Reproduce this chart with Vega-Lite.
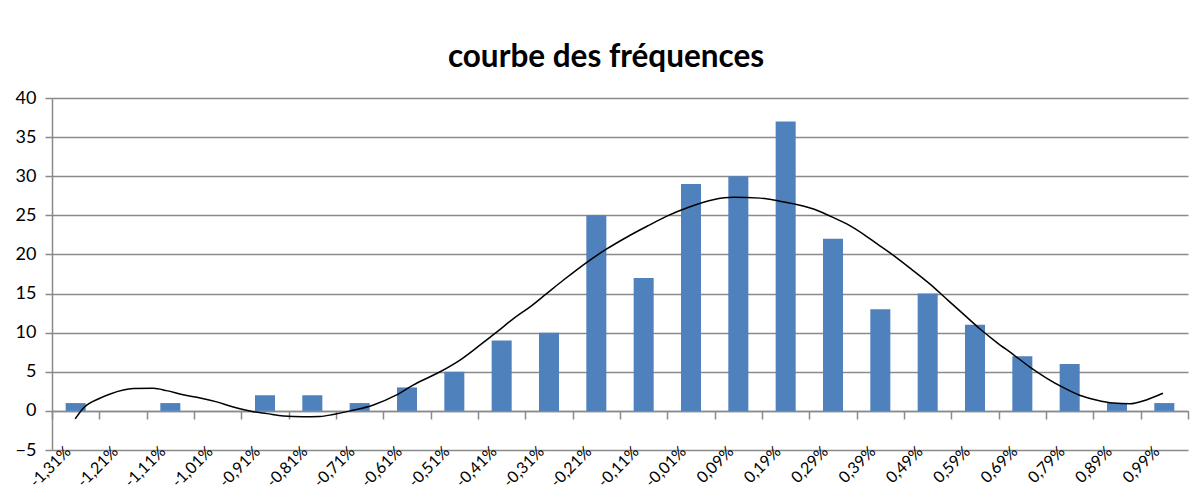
{
  "$schema": "https://vega.github.io/schema/vega-lite/v6.json",
  "width": 1136,
  "height": 352,
  "autosize": {"type": "none"},
  "padding": {"left": 52, "top": 98, "right": 14, "bottom": 43},
  "background": "white",
  "title": {"text": "courbe des fréquences", "font": "Lato", "fontSize": 31.5, "fontWeight": "bold", "color": "black", "anchor": "middle", "dx": -14, "dy": 9, "baseline": "alphabetic", "offset": 0},
  "config": {"view": {"stroke": null}, "font": "Lato"},
  "datasets": {
    "barres": [
      {"classe": "-1,31%", "freq": 1},
      {"classe": "-1,21%", "freq": 0},
      {"classe": "-1,11%", "freq": 1},
      {"classe": "-1,01%", "freq": 0},
      {"classe": "-0,91%", "freq": 2},
      {"classe": "-0,81%", "freq": 2},
      {"classe": "-0,71%", "freq": 1},
      {"classe": "-0,61%", "freq": 3},
      {"classe": "-0,51%", "freq": 5},
      {"classe": "-0,41%", "freq": 9},
      {"classe": "-0,31%", "freq": 10},
      {"classe": "-0,21%", "freq": 25},
      {"classe": "-0,11%", "freq": 17},
      {"classe": "-0,01%", "freq": 29},
      {"classe": "0,09%", "freq": 30},
      {"classe": "0,19%", "freq": 37},
      {"classe": "0,29%", "freq": 22},
      {"classe": "0,39%", "freq": 13},
      {"classe": "0,49%", "freq": 15},
      {"classe": "0,59%", "freq": 11},
      {"classe": "0,69%", "freq": 7},
      {"classe": "0,79%", "freq": 6},
      {"classe": "0,89%", "freq": 1},
      {"classe": "0,99%", "freq": 1}
    ],
    "courbe": [
      {"x": -1.311, "y": -1.02},
      {"x": -1.294, "y": 0.34},
      {"x": -1.259, "y": 1.61},
      {"x": -1.237, "y": 2.16},
      {"x": -1.188, "y": 2.85},
      {"x": -1.146, "y": 2.88},
      {"x": -1.118, "y": 2.59},
      {"x": -1.083, "y": 2.05},
      {"x": -1.047, "y": 1.65},
      {"x": -1.012, "y": 1.15},
      {"x": -0.977, "y": 0.5},
      {"x": -0.935, "y": -0.1},
      {"x": -0.906, "y": -0.35},
      {"x": -0.871, "y": -0.65},
      {"x": -0.83, "y": -0.75},
      {"x": -0.794, "y": -0.72},
      {"x": -0.766, "y": -0.45},
      {"x": -0.73, "y": 0.0},
      {"x": -0.681, "y": 0.76},
      {"x": -0.632, "y": 2.04},
      {"x": -0.597, "y": 3.3},
      {"x": -0.54, "y": 5.0},
      {"x": -0.498, "y": 6.5},
      {"x": -0.456, "y": 8.4},
      {"x": -0.42, "y": 10.1},
      {"x": -0.385, "y": 11.8},
      {"x": -0.35, "y": 13.3},
      {"x": -0.315, "y": 15.0},
      {"x": -0.28, "y": 16.7},
      {"x": -0.23, "y": 19.0},
      {"x": -0.188, "y": 20.7},
      {"x": -0.146, "y": 22.2},
      {"x": -0.103, "y": 23.6},
      {"x": -0.061, "y": 24.9},
      {"x": -0.012, "y": 26.1},
      {"x": 0.037, "y": 27.0},
      {"x": 0.08, "y": 27.3},
      {"x": 0.136, "y": 27.2},
      {"x": 0.178, "y": 26.8},
      {"x": 0.22, "y": 26.3},
      {"x": 0.249, "y": 25.8},
      {"x": 0.284, "y": 24.9},
      {"x": 0.319, "y": 23.9},
      {"x": 0.354, "y": 22.6},
      {"x": 0.389, "y": 21.1},
      {"x": 0.424, "y": 19.6},
      {"x": 0.46, "y": 17.9},
      {"x": 0.495, "y": 16.2},
      {"x": 0.53, "y": 14.3},
      {"x": 0.565, "y": 12.4},
      {"x": 0.6, "y": 10.5},
      {"x": 0.635, "y": 8.8},
      {"x": 0.671, "y": 7.2},
      {"x": 0.706, "y": 5.6},
      {"x": 0.741, "y": 4.2},
      {"x": 0.776, "y": 3.0},
      {"x": 0.811, "y": 2.0},
      {"x": 0.846, "y": 1.4},
      {"x": 0.882, "y": 1.0},
      {"x": 0.917, "y": 0.9},
      {"x": 0.952, "y": 1.4},
      {"x": 0.987, "y": 2.25}
    ]
  },
  "layer": [
    {
      "data": {"name": "barres"},
      "mark": {"type": "bar", "color": "#4f81bd"},
      "encoding": {
        "x": {"field": "classe", "type": "nominal", "sort": null, "title": null,
          "scale": {"paddingInner": 0.577, "paddingOuter": 0.2885},
          "axis": {"orient": "bottom", "domain": false, "ticks": false, "grid": false, "labelAngle": -45, "labelAlign": "right", "labelBaseline": "top", "labelPadding": -7, "labelOffset": -13, "labelFont": "Lato", "labelFontSize": 16, "labelColor": "black", "labelOverlap": false, "labelBound": false}},
        "y": {"field": "freq", "type": "quantitative", "title": null,
          "scale": {"domain": [-5, 40], "nice": false, "zero": false},
          "axis": {"values": [-5, 0, 5, 10, 15, 20, 25, 30, 35, 40], "labelOverlap": false, "grid": true, "gridColor": "#8a8a8a", "gridWidth": 1.5, "domainColor": "#8a8a8a", "domainWidth": 1.5, "tickColor": "#8a8a8a", "tickWidth": 1.5, "tickSize": 7, "labelPadding": 9, "labelFont": "Lato", "labelFontSize": 18, "labelColor": "black"}}
      }
    },
    {
      "data": {"name": "courbe"},
      "mark": {"type": "line", "interpolate": "monotone", "color": "black", "strokeWidth": 1.5},
      "encoding": {
        "x": {"field": "x", "type": "quantitative", "title": null,
          "scale": {"domain": [-1.36, 1.04], "nice": false, "zero": false},
          "axis": {"orient": "bottom", "offset": -39, "labels": false, "grid": false,
            "values": [-1.36, -1.26, -1.16, -1.06, -0.96, -0.86, -0.76, -0.66, -0.56, -0.46, -0.36, -0.26, -0.16, -0.06, 0.04, 0.14, 0.24, 0.34, 0.44, 0.54, 0.64, 0.74, 0.84, 0.94, 1.04],
            "domainColor": "#8a8a8a", "domainWidth": 1.5, "tickColor": "#8a8a8a", "tickWidth": 1.5, "tickSize": 8}},
        "y": {"field": "y", "type": "quantitative", "title": null,
          "axis": {"values": [-5, 0, 5, 10, 15, 20, 25, 30, 35, 40], "labelOverlap": false, "grid": true, "gridColor": "#8a8a8a", "gridWidth": 1.5, "domainColor": "#8a8a8a", "domainWidth": 1.5, "tickColor": "#8a8a8a", "tickWidth": 1.5, "tickSize": 7, "labelPadding": 9, "labelFont": "Lato", "labelFontSize": 18, "labelColor": "black"}}
      }
    }
  ],
  "resolve": {"scale": {"x": "independent"}, "axis": {"x": "independent"}}
}
